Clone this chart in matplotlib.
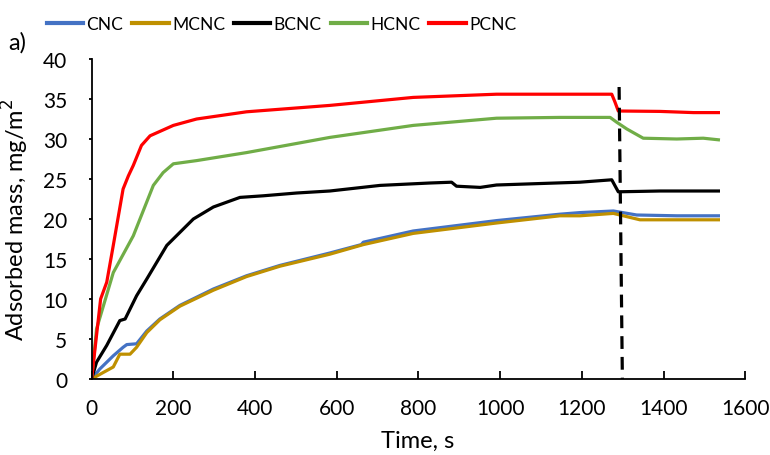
import matplotlib.pyplot as plt

plt.rcParams['font.family'] = ['Lato', 'DejaVu Sans']

# values
cnc_t = [0, 20, 53, 77, 86, 110, 135, 167, 216, 298, 379, 461, 583, 660, 665, 787, 991, 1146, 1195, 1277, 1334, 1432, 1534]
cnc_m = [0, 1.25, 2.9, 3.96, 4.3, 4.4, 6.0, 7.5, 9.2, 11.25, 12.9, 14.2, 15.75, 16.8, 17.1, 18.5, 19.8, 20.6, 20.8, 21.0, 20.5, 20.4, 20.4]

mcnc_t = [0, 28, 53, 69, 94, 110, 135, 167, 216, 298, 379, 461, 583, 665, 787, 991, 1146, 1195, 1277, 1342, 1432, 1534]
mcnc_m = [0, 0.8, 1.5, 3.1, 3.1, 3.96, 5.8, 7.4, 9.1, 11.1, 12.8, 14.1, 15.6, 16.8, 18.2, 19.5, 20.4, 20.4, 20.7, 19.9, 19.9, 19.9]

bcnc_t = [0, 12, 37, 69, 82, 110, 135, 184, 249, 298, 363, 420, 502, 583, 706, 828, 881, 893, 951, 991, 1195, 1273, 1289, 1391, 1534]
bcnc_m = [0, 2.1, 4.2, 7.3, 7.5, 10.4, 12.5, 16.7, 20.0, 21.5, 22.7, 22.9, 23.25, 23.5, 24.2, 24.5, 24.6, 24.1, 23.95, 24.25, 24.6, 24.9, 23.4, 23.5, 23.5]

hcnc_t = [0, 12, 53, 102, 151, 175, 200, 257, 379, 583, 787, 991, 1146, 1269, 1285, 1310, 1350, 1432, 1497, 1534]
hcnc_m = [0, 6.25, 13.3, 17.9, 24.2, 25.8, 26.9, 27.3, 28.3, 30.2, 31.7, 32.6, 32.7, 32.7, 32.1, 31.25, 30.1, 30.0, 30.1, 29.9]

pcnc_t = [0, 22, 37, 53, 77, 90, 102, 122, 143, 200, 257, 379, 583, 787, 991, 1146, 1273, 1281, 1289, 1391, 1473, 1534]
pcnc_m = [0, 10, 12.1, 16.7, 23.75, 25.4, 26.7, 29.2, 30.4, 31.7, 32.5, 33.4, 34.2, 35.2, 35.6, 35.6, 35.6, 34.6, 33.5, 33.45, 33.3, 33.3]

rinse_t = [1291, 1299]
rinse_m = [36.5, 0]

fig = plt.figure(figsize=(7.7, 4.56), dpi=100)
ax = fig.add_axes([0.119, 0.1667, 0.849, 0.7017])

lw = 2.3
ax.plot(cnc_t, cnc_m, color='#4472C4', lw=lw, label='CNC')
ax.plot(mcnc_t, mcnc_m, color='#BF9000', lw=lw, label='MCNC')
ax.plot(bcnc_t, bcnc_m, color='black', lw=lw, label='BCNC')
ax.plot(hcnc_t, hcnc_m, color='#70AD47', lw=lw, label='HCNC')
ax.plot(pcnc_t, pcnc_m, color='#FF0000', lw=lw, label='PCNC')
ax.plot(rinse_t, rinse_m, color='black', lw=2.3, ls=(0, (4, 2.5)))

ax.set_xlim(0, 1600)
ax.set_ylim(0, 40)
ax.set_xticks(range(0, 1601, 200))
ax.set_yticks(range(0, 41, 5))
ax.spines['top'].set_visible(False)
ax.spines['right'].set_visible(False)
for s in ['left', 'bottom']:
    ax.spines[s].set_linewidth(1.3)
ax.tick_params(axis='x', direction='in', length=6, width=1.3, labelsize=15, pad=14)
ax.tick_params(axis='y', direction='out', length=2.5, width=1.3, labelsize=15, pad=15)

ax.set_xlabel('Time, s', fontsize=17)
ax.set_ylabel('Adsorbed mass, mg/m$^2$', fontsize=17)
ax.xaxis.set_label_coords(0.499, -0.16)
ax.yaxis.set_label_coords(-0.092, 0.5)

fig.legend(loc='center left', bbox_to_anchor=(38 / 770, 1 - 25 / 456), ncol=5, frameon=False,
           fontsize=12.5, handlelength=2.1, handletextpad=0.2, columnspacing=0.5, borderpad=0)
for line in fig.legends[0].get_lines():
    line.set_linewidth(3)

fig.text(8 / 770, 1 - 43 / 456, 'a)', fontsize=17, va='center', ha='left')

fig.savefig('out.png', dpi=100)
